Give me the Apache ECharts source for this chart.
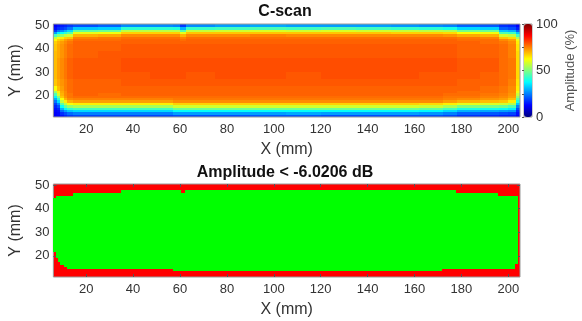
<!DOCTYPE html>
<html>
<head>
<meta charset="utf-8">
<script src="https://cdn.jsdelivr.net/npm/echarts@6/dist/echarts.min.js"></script>
<style>
html,body{margin:0;padding:0;background:#fff;}
#chart{width:582px;height:321px;}
</style>
</head>
<body>
<div id="chart"></div>
<script>
// ---- Tick labels ----
const xTicks = [20, 40, 60, 80, 100, 120, 140, 160, 180, 200];
const yTicks = [20, 30, 40, 50];
const cbTicks = [0, 25, 50, 75, 100];
const cbLabels = [0, 50, 100];

// ---- C-scan grid (columns of x, rows of y from top to bottom), amplitude % ----
const xEdges = [6, 7.5, 9, 10.5, 12, 14.5, 25, 35, 47, 57, 60, 62.5, 75, 90, 105, 120, 135, 150, 162, 172, 178, 188, 196, 200, 203.5, 205];
const yEdges = [50.4, 49, 48, 47, 46, 45, 44, 43, 42, 39, 36, 33, 30, 27, 24, 22, 21, 20, 19, 18, 17, 16, 15, 14, 13, 12, 11];
const cscanCols = [
  [12,14,18,28,44,56,63,67,68,69,69,69,69,68,62,53,45,37,30,24,19,16,14,13,12,12],
  [14,17,24,36,50,61,67,70,71,71,72,72,72,71,69,64,58,50,42,34,26,20,16,14,13,12],
  [15,18,26,38,52,64,69,72,73,73,74,74,74,73,72,71,70,68,62,56,47,38,30,23,17,14],
  [16,20,30,42,56,67,72,74,75,75,76,76,76,75,75,74,74,73,70,64,56,47,37,28,20,16],
  [18,24,34,46,58,68,74,76,77,77,78,78,78,77,77,77,76,76,74,70,62,52,42,32,23,18],
  [20,32,47,60,70,75,77,78,78,78,79,79,79,78,78,78,78,77,75,72,64,54,44,34,25,19],
  [22,33,48,61,71,76,77,78,78,79,79,79,79,78,78,78,77,77,75,72,64,54,44,34,25,19],
  [26,42,56,67,74,77,78,78,79,79,80,80,79,79,78,78,78,77,75,72,64,54,44,34,25,19],
  [26,42,56,67,74,77,78,78,79,79,80,80,80,79,78,78,78,77,75,72,64,54,44,34,25,19],
  [25,41,56,67,74,77,78,78,79,79,80,80,80,79,78,78,78,77,76,74,67,58,48,38,28,20],
  [18,30,46,60,70,75,77,78,79,79,80,80,80,79,78,78,78,77,76,74,67,58,48,38,28,20],
  [26,43,57,68,74,77,78,78,79,79,80,80,79,79,78,78,78,77,76,74,67,58,48,38,28,20],
  [28,44,58,68,74,77,78,78,79,79,80,80,80,79,78,78,78,77,76,74,67,58,48,38,28,20],
  [29,45,59,68,75,77,78,78,79,79,80,80,80,79,78,78,78,77,76,74,67,58,48,38,28,21],
  [28,44,58,68,74,77,78,78,79,79,80,80,79,79,78,78,78,77,76,74,67,58,48,38,29,21],
  [28,45,59,68,74,77,78,78,79,79,80,80,80,79,78,78,78,77,76,74,67,58,48,38,28,20],
  [28,44,58,68,74,77,78,78,79,79,80,80,80,79,78,78,78,77,76,74,67,58,48,38,28,20],
  [27,43,57,67,74,77,78,78,79,79,80,80,80,79,78,78,78,77,76,74,67,58,48,38,28,20],
  [26,42,56,67,74,77,78,78,79,79,80,80,79,79,78,78,78,77,76,74,66,57,47,37,27,20],
  [25,40,55,66,73,77,78,78,79,79,80,80,79,79,78,78,77,76,75,72,64,54,44,34,25,19],
  [22,34,49,62,71,76,77,78,78,78,79,79,79,78,78,77,77,76,74,70,60,50,40,30,22,17],
  [21,33,48,61,70,75,77,77,78,78,79,79,78,78,77,77,76,75,73,69,59,49,39,29,21,16],
  [17,22,32,45,58,68,74,76,77,77,77,77,77,77,76,76,75,74,72,68,58,48,38,28,20,15],
  [16,20,30,43,56,66,72,74,75,75,76,76,76,75,74,74,73,72,69,64,55,45,36,27,19,15],
  [12,15,22,32,44,54,61,64,65,66,66,66,66,65,64,61,57,52,46,40,32,25,20,16,14,12]
];

// ---- Threshold mask (green region above -6.0206 dB), segments along x ----
const maskX0     = [6,    7,  8,    9,    10.5, 12,   14.5, 34.8, 57,   60.3, 62.3, 171.8, 177.8, 195.8, 203];
const maskX1     = [7,    8,  9,    10.5, 12,   14.5, 34.8, 57,   60.3, 62.3, 171.8, 177.8, 195.8, 203, 204.3];
const maskBottom = [21.5, 19, 17.3, 16.2, 15.3, 14.5, 14.5, 14.5, 13.7, 13.7, 13.7, 14.5,  14.5,  14.5,  16.3];
const maskTop    = [44.5, 45.5,45.5,45.5, 45.5, 45.5, 46.5, 47.7, 47.7, 46.6, 47.7, 47.7,  46.7,  45.5,  45.5];

const heatData = [];
for (let c = 0; c < cscanCols.length; c++) {
  for (let r = 0; r < yEdges.length - 1; r++) {
    heatData.push([xEdges[c], xEdges[c + 1], yEdges[r + 1], yEdges[r], cscanCols[c][r]]);
  }
}
const maskData = maskX0.map((x0, i) => [x0, maskX1[i], maskBottom[i], maskTop[i]]);

const FONT = 'Liberation Sans, Arial, Helvetica, sans-serif';
const TXT = '#333333';
const BORDER = '#9a9a9a';

function rectItem(params, api, fill) {
  const p0 = api.coord([api.value(0), api.value(3)]);
  const p1 = api.coord([api.value(1), api.value(2)]);
  const cs = params.coordSys;
  const s = echarts.graphic.clipRectByRect(
    {x: p0[0], y: p0[1], width: p1[0] - p0[0], height: p1[1] - p0[1]},
    {x: cs.x, y: cs.y, width: cs.width, height: cs.height});
  if (!s) return null;
  const x0 = Math.round(s.x), y0 = Math.round(s.y);
  const x1 = Math.round(s.x + s.width), y1 = Math.round(s.y + s.height);
  if (x1 <= x0 || y1 <= y0) return null;
  return {type: 'rect', shape: {x: x0, y: y0, width: x1 - x0, height: y1 - y0}, style: {fill: fill}};
}

function xAx(gi, pos, withLabels) {
  return {
    type: 'value', gridIndex: gi, position: pos, min: 6, max: 205,
    axisLine: {show: false},
    axisTick: {show: true, inside: true, length: 3, customValues: xTicks, lineStyle: {color: '#555'}},
    axisLabel: {show: withLabels, customValues: xTicks, color: TXT, fontSize: 13, fontFamily: FONT, margin: 6},
    splitLine: {show: false},
    name: withLabels ? 'X (mm)' : '', nameLocation: 'middle', nameGap: 25,
    nameTextStyle: {color: TXT, fontSize: 16, fontFamily: FONT}
  };
}
function yAx(gi, pos, withLabels) {
  return {
    type: 'value', gridIndex: gi, position: pos, min: 11, max: 50.4,
    axisLine: {show: false},
    axisTick: {show: true, inside: true, length: 3, customValues: yTicks, lineStyle: {color: '#555'}},
    axisLabel: {show: withLabels, customValues: yTicks, color: TXT, fontSize: 13, fontFamily: FONT, margin: 4},
    splitLine: {show: false},
    name: withLabels ? 'Y (mm)' : '', nameLocation: 'middle', nameGap: 22, nameRotate: 90,
    nameTextStyle: {color: TXT, fontSize: 16, fontFamily: FONT}
  };
}

const chart = echarts.init(document.getElementById('chart'), null, {renderer: 'canvas'});
chart.setOption({
  animation: false,
  backgroundColor: '#ffffff',
  title: [
    {text: 'C-scan', left: 285, top: 4, textAlign: 'center', padding: 0,
     textStyle: {fontSize: 16, fontWeight: 'bold', color: '#111', fontFamily: FONT}},
    {text: 'Amplitude < -6.0206 dB', left: 285, top: 165, textAlign: 'center', padding: 0,
     textStyle: {fontSize: 16, fontWeight: 'bold', color: '#111', fontFamily: FONT}}
  ],
  grid: [
    {left: 50, top: 24, width: 470, height: 93, show: true, borderColor: BORDER, borderWidth: 1, backgroundColor: 'transparent', z: 5},
    {left: 50, top: 184, width: 470, height: 93, show: true, borderColor: BORDER, borderWidth: 1, backgroundColor: '#ff0000'},
    {left: 524, top: 24, width: 8, height: 93, show: true, borderColor: BORDER, borderWidth: 1, backgroundColor: 'transparent'}
  ],
  xAxis: [
    xAx(0, 'bottom', true), xAx(0, 'top', false),
    xAx(1, 'bottom', true), xAx(1, 'top', false),
    {type: 'value', gridIndex: 2, min: 0, max: 1, show: false}
  ],
  yAxis: [
    yAx(0, 'left', true), yAx(0, 'right', false),
    yAx(1, 'left', true), yAx(1, 'right', false),
    {type: 'value', gridIndex: 2, position: 'right', min: 0, max: 100,
     axisLine: {show: false},
     axisTick: {show: true, inside: true, length: 2, customValues: cbTicks, lineStyle: {color: '#555'}},
     axisLabel: {customValues: cbLabels, color: TXT, fontSize: 13, fontFamily: FONT, margin: 4},
     splitLine: {show: false},
     name: 'Amplitude (%)', nameLocation: 'middle', nameGap: 32, nameRotate: 90,
     nameTextStyle: {color: '#555', fontSize: 13, fontFamily: FONT}}
  ],
  visualMap: {
    type: 'continuous', min: 0, max: 100, dimension: 4, seriesIndex: 0,
    left: 524, top: 24, itemWidth: 8, itemHeight: 93, padding: 0,
    calculable: false, hoverLink: false, text: null, showLabel: false,
    inRange: {color: ['#000080', '#0000ff', '#0080ff', '#00ffff', '#80ff80', '#ffff00', '#ff8000', '#ff0000', '#800000']}
  },
  series: [
    {type: 'custom', xAxisIndex: 0, yAxisIndex: 0, data: heatData,
     encode: {x: [0, 1], y: [2, 3]}, silent: true,
     renderItem: (params, api) => rectItem(params, api, api.visual('color'))},
    {type: 'custom', xAxisIndex: 2, yAxisIndex: 2, data: maskData,
     encode: {x: [0, 1], y: [2, 3]}, silent: true,
     renderItem: (params, api) => rectItem(params, api, '#00ff00')}
  ]
});
</script>
</body>
</html>
